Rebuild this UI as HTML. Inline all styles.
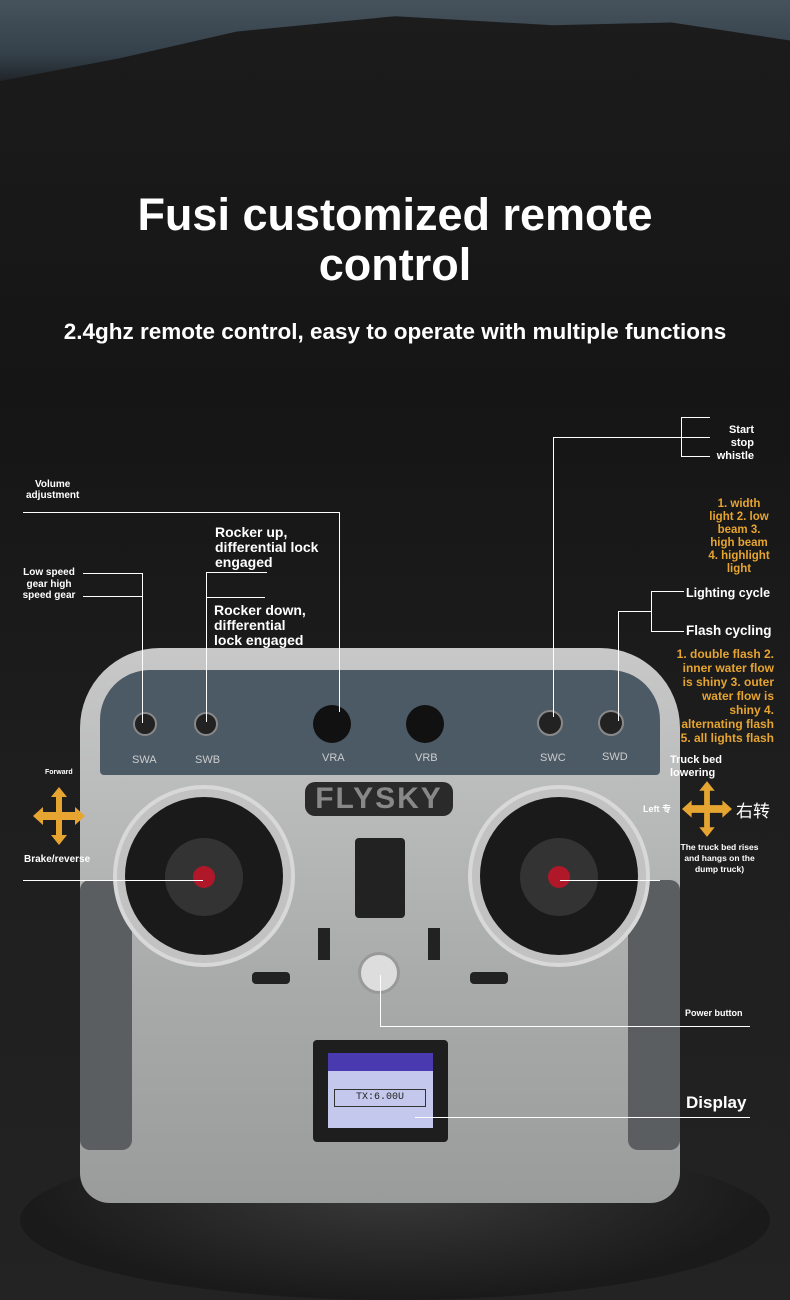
<!DOCTYPE html>
<html><head><meta charset="utf-8"><style>
*{margin:0;padding:0;box-sizing:border-box}
body{width:790px;height:1300px;overflow:hidden;background:linear-gradient(180deg,#1c1c1c 0%,#151515 30%,#1e1e1e 60%,#232323 100%);font-family:"Liberation Sans","Noto Sans CJK SC",sans-serif;color:#fff;position:relative}
.a{position:absolute}
.t{font-weight:bold}
.l{position:absolute;background:#fff}
.o{color:#e6a430;font-weight:bold}
</style></head><body>
<div class="a" style="left:0;top:0;width:790px;height:90px;background:linear-gradient(180deg,#46525c 0%,#34404a 60%,#1a1d20 100%);clip-path:polygon(0 0,100% 0,100% 45%,85% 25%,70% 28%,50% 18%,30% 35%,15% 65%,0 90%)"></div>
<div class="a t" style="left:0;top:190px;width:790px;text-align:center;font-size:45px;line-height:50px">Fusi customized remote<br>control</div>
<div class="a t" style="left:0;top:319px;width:790px;text-align:center;font-size:22.5px">2.4ghz remote control, easy to operate with multiple functions</div>

<div class="a" style="left:20px;top:1140px;width:750px;height:160px;border-radius:50%;background:radial-gradient(ellipse at 50% 30%,#3a3a3a,#1a1a1a 70%)"></div>
<div class="a" style="left:80px;top:648px;width:600px;height:555px;border-radius:80px 80px 30px 30px;background:linear-gradient(180deg,#c8c8c8,#a9abab 60%,#9a9c9c)"></div>
<div class="a" style="left:80px;top:880px;width:52px;height:270px;border-radius:10px;background:#5a5e60"></div>
<div class="a" style="left:628px;top:880px;width:52px;height:270px;border-radius:10px;background:#5a5e60"></div>
<div class="a" style="left:100px;top:670px;width:560px;height:105px;border-radius:50px 50px 4px 4px;background:#4c5a66"></div>
<div class="a" style="left:133px;top:712px;width:24px;height:24px;border-radius:50%;background:#222;border:2px solid #888"></div>
<div class="a" style="left:194px;top:712px;width:24px;height:24px;border-radius:50%;background:#222;border:2px solid #888"></div>
<div class="a" style="left:313px;top:705px;width:38px;height:38px;border-radius:50%;background:#111"></div>
<div class="a" style="left:406px;top:705px;width:38px;height:38px;border-radius:50%;background:#111"></div>
<div class="a" style="left:537px;top:710px;width:26px;height:26px;border-radius:50%;background:#222;border:2px solid #888"></div>
<div class="a" style="left:598px;top:710px;width:26px;height:26px;border-radius:50%;background:#222;border:2px solid #888"></div>
<div class="a" style="left:132px;top:754px;font-size:11px;color:#ccc">SWA</div>
<div class="a" style="left:195px;top:754px;font-size:11px;color:#ccc">SWB</div>
<div class="a" style="left:322px;top:752px;font-size:11px;color:#ccc">VRA</div>
<div class="a" style="left:415px;top:752px;font-size:11px;color:#ccc">VRB</div>
<div class="a" style="left:540px;top:752px;font-size:11px;color:#ccc">SWC</div>
<div class="a" style="left:602px;top:751px;font-size:11px;color:#ccc">SWD</div>
<div class="a t" style="left:305px;top:782px;width:148px;height:34px;border-radius:10px;background:#2a2a2a;color:#888;font-size:30px;text-align:center;line-height:34px;letter-spacing:2px">FLYSKY</div>
<div class="a" style="left:113px;top:785px;width:182px;height:182px;border-radius:50%;background:#c2c2c2;border:4px solid #d8d8d8"></div>
<div class="a" style="left:125px;top:797px;width:158px;height:158px;border-radius:50%;background:#1a1a1a"></div>
<div class="a" style="left:165px;top:838px;width:78px;height:78px;border-radius:50%;background:#333"></div>
<div class="a" style="left:193px;top:866px;width:22px;height:22px;border-radius:50%;background:#b0182a"></div>
<div class="a" style="left:468px;top:785px;width:182px;height:182px;border-radius:50%;background:#c2c2c2;border:4px solid #d8d8d8"></div>
<div class="a" style="left:480px;top:797px;width:158px;height:158px;border-radius:50%;background:#1a1a1a"></div>
<div class="a" style="left:520px;top:838px;width:78px;height:78px;border-radius:50%;background:#333"></div>
<div class="a" style="left:548px;top:866px;width:22px;height:22px;border-radius:50%;background:#b0182a"></div>
<div class="a" style="left:355px;top:838px;width:50px;height:80px;background:#222;border-radius:4px"></div>
<div class="a" style="left:358px;top:952px;width:42px;height:42px;border-radius:50%;background:#ddd;border:3px solid #999"></div>
<div class="a" style="left:318px;top:928px;width:12px;height:32px;background:#222"></div>
<div class="a" style="left:428px;top:928px;width:12px;height:32px;background:#222"></div>
<div class="a" style="left:252px;top:972px;width:38px;height:12px;background:#222;border-radius:4px"></div>
<div class="a" style="left:470px;top:972px;width:38px;height:12px;background:#222;border-radius:4px"></div>
<div class="a" style="left:313px;top:1040px;width:135px;height:102px;background:#1e1e1e;border-radius:4px"></div>
<div class="a" style="left:328px;top:1053px;width:105px;height:75px;background:#c4c8ec"></div>
<div class="a" style="left:328px;top:1053px;width:105px;height:18px;background:#4a3ab0"></div>
<div class="a" style="left:334px;top:1089px;width:92px;height:18px;border:1px solid #333;font-size:10px;color:#222;text-align:center;line-height:16px;font-family:'Liberation Mono',monospace">TX:6.00U</div>

<div class="a t" style="left:26px;top:479px;font-size:10px;text-align:center;line-height:11px">Volume<br>adjustment</div>
<div class="l" style="left:23px;top:512px;width:317px;height:1px"></div>
<div class="l" style="left:339px;top:512px;width:1px;height:200px"></div>
<div class="a t" style="left:215px;top:525px;font-size:14px;line-height:15px">Rocker up,<br>differential lock<br>engaged</div>
<div class="a t" style="left:214px;top:603px;font-size:14px;line-height:15px">Rocker down,<br>differential<br>lock engaged</div>
<div class="l" style="left:206px;top:572px;width:61px;height:1px"></div>
<div class="l" style="left:206px;top:597px;width:59px;height:1px"></div>
<div class="l" style="left:206px;top:572px;width:1px;height:150px"></div>
<div class="a t" style="left:16px;top:567px;font-size:10px;line-height:11.5px;text-align:center;width:66px">Low speed<br>gear high<br>speed gear</div>
<div class="l" style="left:83px;top:573px;width:60px;height:1px"></div>
<div class="l" style="left:83px;top:596px;width:60px;height:1px"></div>
<div class="l" style="left:142px;top:573px;width:1px;height:150px"></div>
<div class="a t" style="left:45px;top:769px;font-size:7px">Forward</div>
<svg class="a" style="left:33px;top:787px" width="52" height="58" viewBox="0 0 52 58"><path fill="#e6a430" d="M26 0 L34 10 L29 10 L29 25 L42 25 L42 20 L52 29 L42 38 L42 33 L29 33 L29 48 L34 48 L26 58 L18 48 L23 48 L23 33 L10 33 L10 38 L0 29 L10 20 L10 25 L23 25 L23 10 L18 10 Z"/></svg>
<div class="a t" style="left:24px;top:854px;font-size:10px">Brake/reverse</div>
<div class="l" style="left:23px;top:880px;width:180px;height:1px"></div>

<div class="a t" style="left:713px;top:424px;font-size:11px;line-height:13px;text-align:right;width:41px">Start<br>stop<br>whistle</div>
<div class="l" style="left:681px;top:417px;width:29px;height:1px"></div>
<div class="l" style="left:553px;top:437px;width:157px;height:1px"></div>
<div class="l" style="left:681px;top:456px;width:29px;height:1px"></div>
<div class="l" style="left:681px;top:417px;width:1px;height:40px"></div>
<div class="l" style="left:553px;top:437px;width:1px;height:280px"></div>
<div class="a o" style="left:700px;top:498px;font-size:11.5px;line-height:13px;text-align:center;width:78px">1. width<br>light 2. low<br>beam 3.<br>high beam<br>4. highlight<br>light</div>
<div class="a t" style="left:686px;top:586px;font-size:12.5px">Lighting cycle</div>
<div class="a t" style="left:686px;top:623px;font-size:13.5px">Flash cycling</div>
<div class="l" style="left:651px;top:591px;width:33px;height:1px"></div>
<div class="l" style="left:651px;top:631px;width:33px;height:1px"></div>
<div class="l" style="left:651px;top:591px;width:1px;height:41px"></div>
<div class="l" style="left:618px;top:611px;width:34px;height:1px"></div>
<div class="l" style="left:618px;top:611px;width:1px;height:110px"></div>
<div class="a o" style="left:655px;top:647px;font-size:12px;line-height:14px;text-align:right;width:119px">1. double flash 2.<br>inner water flow<br>is shiny 3. outer<br>water flow is<br>shiny 4.<br>alternating flash<br>5. all lights flash</div>
<div class="a t" style="left:670px;top:754px;font-size:11px;line-height:13px">Truck bed<br>lowering</div>
<div class="a t" style="left:643px;top:802px;font-size:9px">Left 专</div>
<svg class="a" style="left:682px;top:781px" width="50" height="56" viewBox="0 0 52 58"><path fill="#e6a430" d="M26 0 L34 10 L29 10 L29 25 L42 25 L42 20 L52 29 L42 38 L42 33 L29 33 L29 48 L34 48 L26 58 L18 48 L23 48 L23 33 L10 33 L10 38 L0 29 L10 20 L10 25 L23 25 L23 10 L18 10 Z"/></svg>
<div class="a" style="left:736px;top:797px;font-size:17px">右转</div>
<div class="a t" style="left:672px;top:842px;font-size:8.5px;line-height:11px;text-align:center;width:95px">The truck bed rises<br>and hangs on the<br>dump truck)</div>
<div class="l" style="left:560px;top:880px;width:100px;height:1px"></div>
<div class="a t" style="left:685px;top:1008px;font-size:9px">Power button</div>
<div class="l" style="left:380px;top:1026px;width:370px;height:1px"></div>
<div class="l" style="left:380px;top:975px;width:1px;height:52px"></div>
<div class="a t" style="left:686px;top:1093px;font-size:17px">Display</div>
<div class="l" style="left:415px;top:1117px;width:335px;height:1px"></div>
</body></html>
